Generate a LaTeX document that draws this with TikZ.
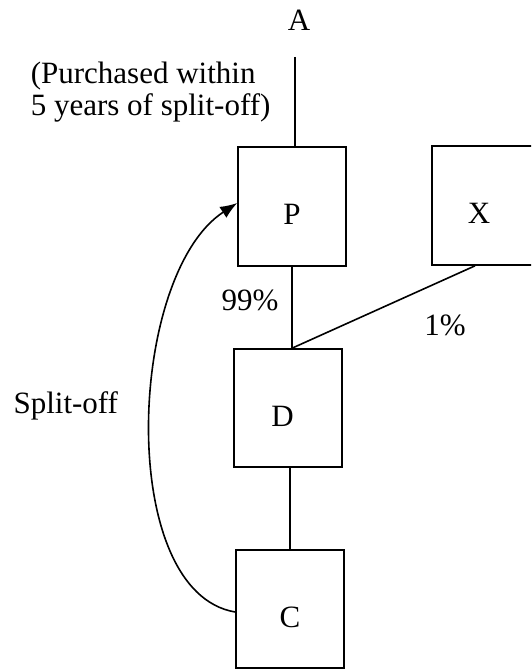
\documentclass[tikz,border=0pt]{standalone}
\usepackage{fontspec}
\setmainfont{Liberation Serif}
\usetikzlibrary{arrows.meta,calc}
\begin{document}
\begin{tikzpicture}[x=1pt,y=-1pt,line width=1.6pt,
  font=\fontsize{31}{32}\selectfont,
  box/.style={draw,rectangle,minimum width=108pt,minimum height=119pt,inner sep=0pt,text height=36pt,text depth=0pt},
  lbl/.style={inner sep=0pt},
  conn/.style={line width=1.6pt},
  arr/.style={conn,-{Latex[length=17pt,width=13pt]}}]
\useasboundingbox (0,0) rectangle (531,669);
\clip (0,0) rectangle (531,669);
% boxes
\node[box] (p) at (292,206.5) {P};
\node[box] (x) at (486,205.5) {\hspace*{-14pt}X};
\node[box,minimum height=118pt] (d) at (288,408) {\hspace*{-11pt}D};
\node[box,minimum height=118pt] (c) at (290,609) {C};
% texts
\node[lbl,anchor=base] (a) at (299,31) {A};
\node[lbl,anchor=north west,align=left] (note) at (30,61.5) {(Purchased within\\5 years of split-off)};
\node[lbl] (p99) at (250,300) {99\%};
\node[lbl] (p1) at (445,325) {1\%};
\node[lbl,anchor=base] (split) at (65.8,413) {Split-off};
% connectors
\coordinate (atop) at (295,57);
\coordinate (xd) at ($(x.south west)!0.4!(x.south east)$);
\draw[conn] (atop) -- (atop |- p.north);
\draw[conn] (p.south) -- (p.south |- d.north);
\draw[conn] (xd) -- (p.south |- d.north);
\draw[conn] (c.north) -- (c.north |- d.south);
\draw[arr] ([yshift=-3pt]c.west) .. controls (116,592) and (127,275) .. ([yshift=3.5pt]p.west);
\end{tikzpicture}
\end{document}
